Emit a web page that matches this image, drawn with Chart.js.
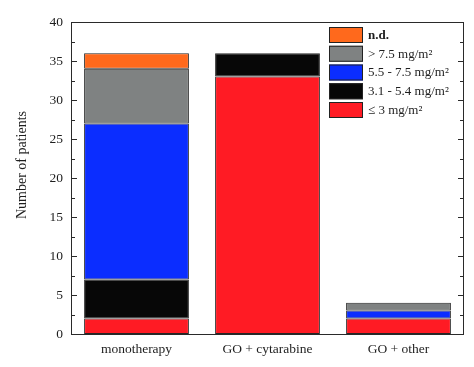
<!DOCTYPE html>
<html>

<head>
    <meta charset="UTF-8">
    <title>Number of patients</title>
    <script src="https://cdn.jsdelivr.net/npm/chart.js"></script>
    <style>
        body { margin: 0; background: #fff; }
        canvas { display: block; }
    </style>
</head>

<body>
    <canvas id="patientsChart" width="474" height="367"></canvas>

    <script>
        const categories = ["monotherapy", "GO + cytarabine", "GO + other"];

        // stacked from the bottom up
        const doseLe3 = [2, 33, 2];
        const dose31to54 = [5, 3, 0];
        const dose55to75 = [20, 0, 1];
        const doseGt75 = [7, 0, 1];
        const notDetermined = [2, 0, 0];

        const yTicks = [0, 5, 10, 15, 20, 25, 30, 35, 40];

        const serif = "'Liberation Serif', 'DejaVu Serif', serif";
        const textColor = "#1e1e1e";

        const series = [
            { label: "≤ 3 mg/m²", data: doseLe3, color: "#ff1b24" },
            { label: "3.1 - 5.4 mg/m²", data: dose31to54, color: "#070707" },
            { label: "5.5 - 7.5 mg/m²", data: dose55to75, color: "#0b2dff" },
            { label: "> 7.5 mg/m²", data: doseGt75, color: "#7f8282" },
            { label: "n.d.", data: notDetermined, color: "#ff691c", bold: true }
        ];

        // frame, inward ticks, y title and the legend box
        const decorations = {
            id: "decorations",
            afterDatasetsDraw(chart) {
                const { ctx, chartArea: area, scales } = chart;
                ctx.save();

                ctx.strokeStyle = "#2a2a2a";
                ctx.lineWidth = 1;
                ctx.strokeRect(area.left + 0.5, area.top + 0.5, area.right - area.left - 1, area.bottom - area.top);

                ctx.beginPath();
                for (let v = 0; v <= 40; v += 2.5) {
                    const y = Math.round(scales.y.getPixelForValue(v)) + 0.5;
                    const len = v % 5 === 0 ? 6 : 4;
                    ctx.moveTo(area.left, y);
                    ctx.lineTo(area.left + len, y);
                    ctx.moveTo(area.right, y);
                    ctx.lineTo(area.right - len, y);
                }
                ctx.stroke();

                // y axis title
                ctx.fillStyle = textColor;
                ctx.font = "14px " + serif;
                ctx.textAlign = "center";
                ctx.textBaseline = "middle";
                ctx.translate(22, 165);
                ctx.rotate(-Math.PI / 2);
                ctx.fillText("Number of patients", 0, 0);
                ctx.setTransform(1, 0, 0, 1, 0, 0);

                // legend, top entry is the top of the stack
                const boxX = area.right - 135;
                let boxY = area.top + 5;
                ctx.textAlign = "left";
                chart.data.datasets.slice().reverse().forEach(ds => {
                    ctx.fillStyle = ds.backgroundColor;
                    ctx.fillRect(boxX, boxY, 34, 16);
                    ctx.strokeStyle = "#222";
                    ctx.strokeRect(boxX + 0.5, boxY + 0.5, 33, 15);
                    ctx.fillStyle = textColor;
                    ctx.font = (ds.bold ? "bold " : "") + "13px " + serif;
                    ctx.fillText(ds.label, boxX + 39, boxY + 8.5);
                    boxY += 18.75;
                });

                ctx.restore();
            }
        };

        new Chart(document.getElementById("patientsChart").getContext("2d"), {
            type: "bar",
            data: {
                labels: categories,
                datasets: series.map(s => ({
                    label: s.label,
                    data: s.data,
                    bold: s.bold,
                    backgroundColor: s.color,
                    borderColor: "#262626",
                    borderWidth: c => (c.raw ? 1 : 0),
                    borderSkipped: false,
                    categoryPercentage: 1,
                    barPercentage: 0.8
                }))
            },
            options: {
                responsive: false,
                animation: false,
                layout: { padding: { top: 22, right: 10, left: 0, bottom: 0 } },
                scales: {
                    x: {
                        stacked: true,
                        grid: { display: false, drawTicks: false },
                        border: { display: false },
                        ticks: { color: textColor, font: { family: serif, size: 13.5 }, padding: 7, maxRotation: 0 },
                        afterFit: s => { s.height = 33; }
                    },
                    y: {
                        stacked: true,
                        min: 0,
                        max: 40,
                        grid: { display: false, drawTicks: false },
                        border: { display: false },
                        afterBuildTicks: s => { s.ticks = yTicks.map(v => ({ value: v })); },
                        ticks: { color: textColor, font: { family: serif, size: 13.5 }, padding: 8 },
                        afterFit: s => { s.width = 71; }
                    }
                },
                plugins: {
                    legend: { display: false },
                    tooltip: { enabled: false }
                }
            },
            plugins: [decorations]
        });
    </script>
</body>

</html>
